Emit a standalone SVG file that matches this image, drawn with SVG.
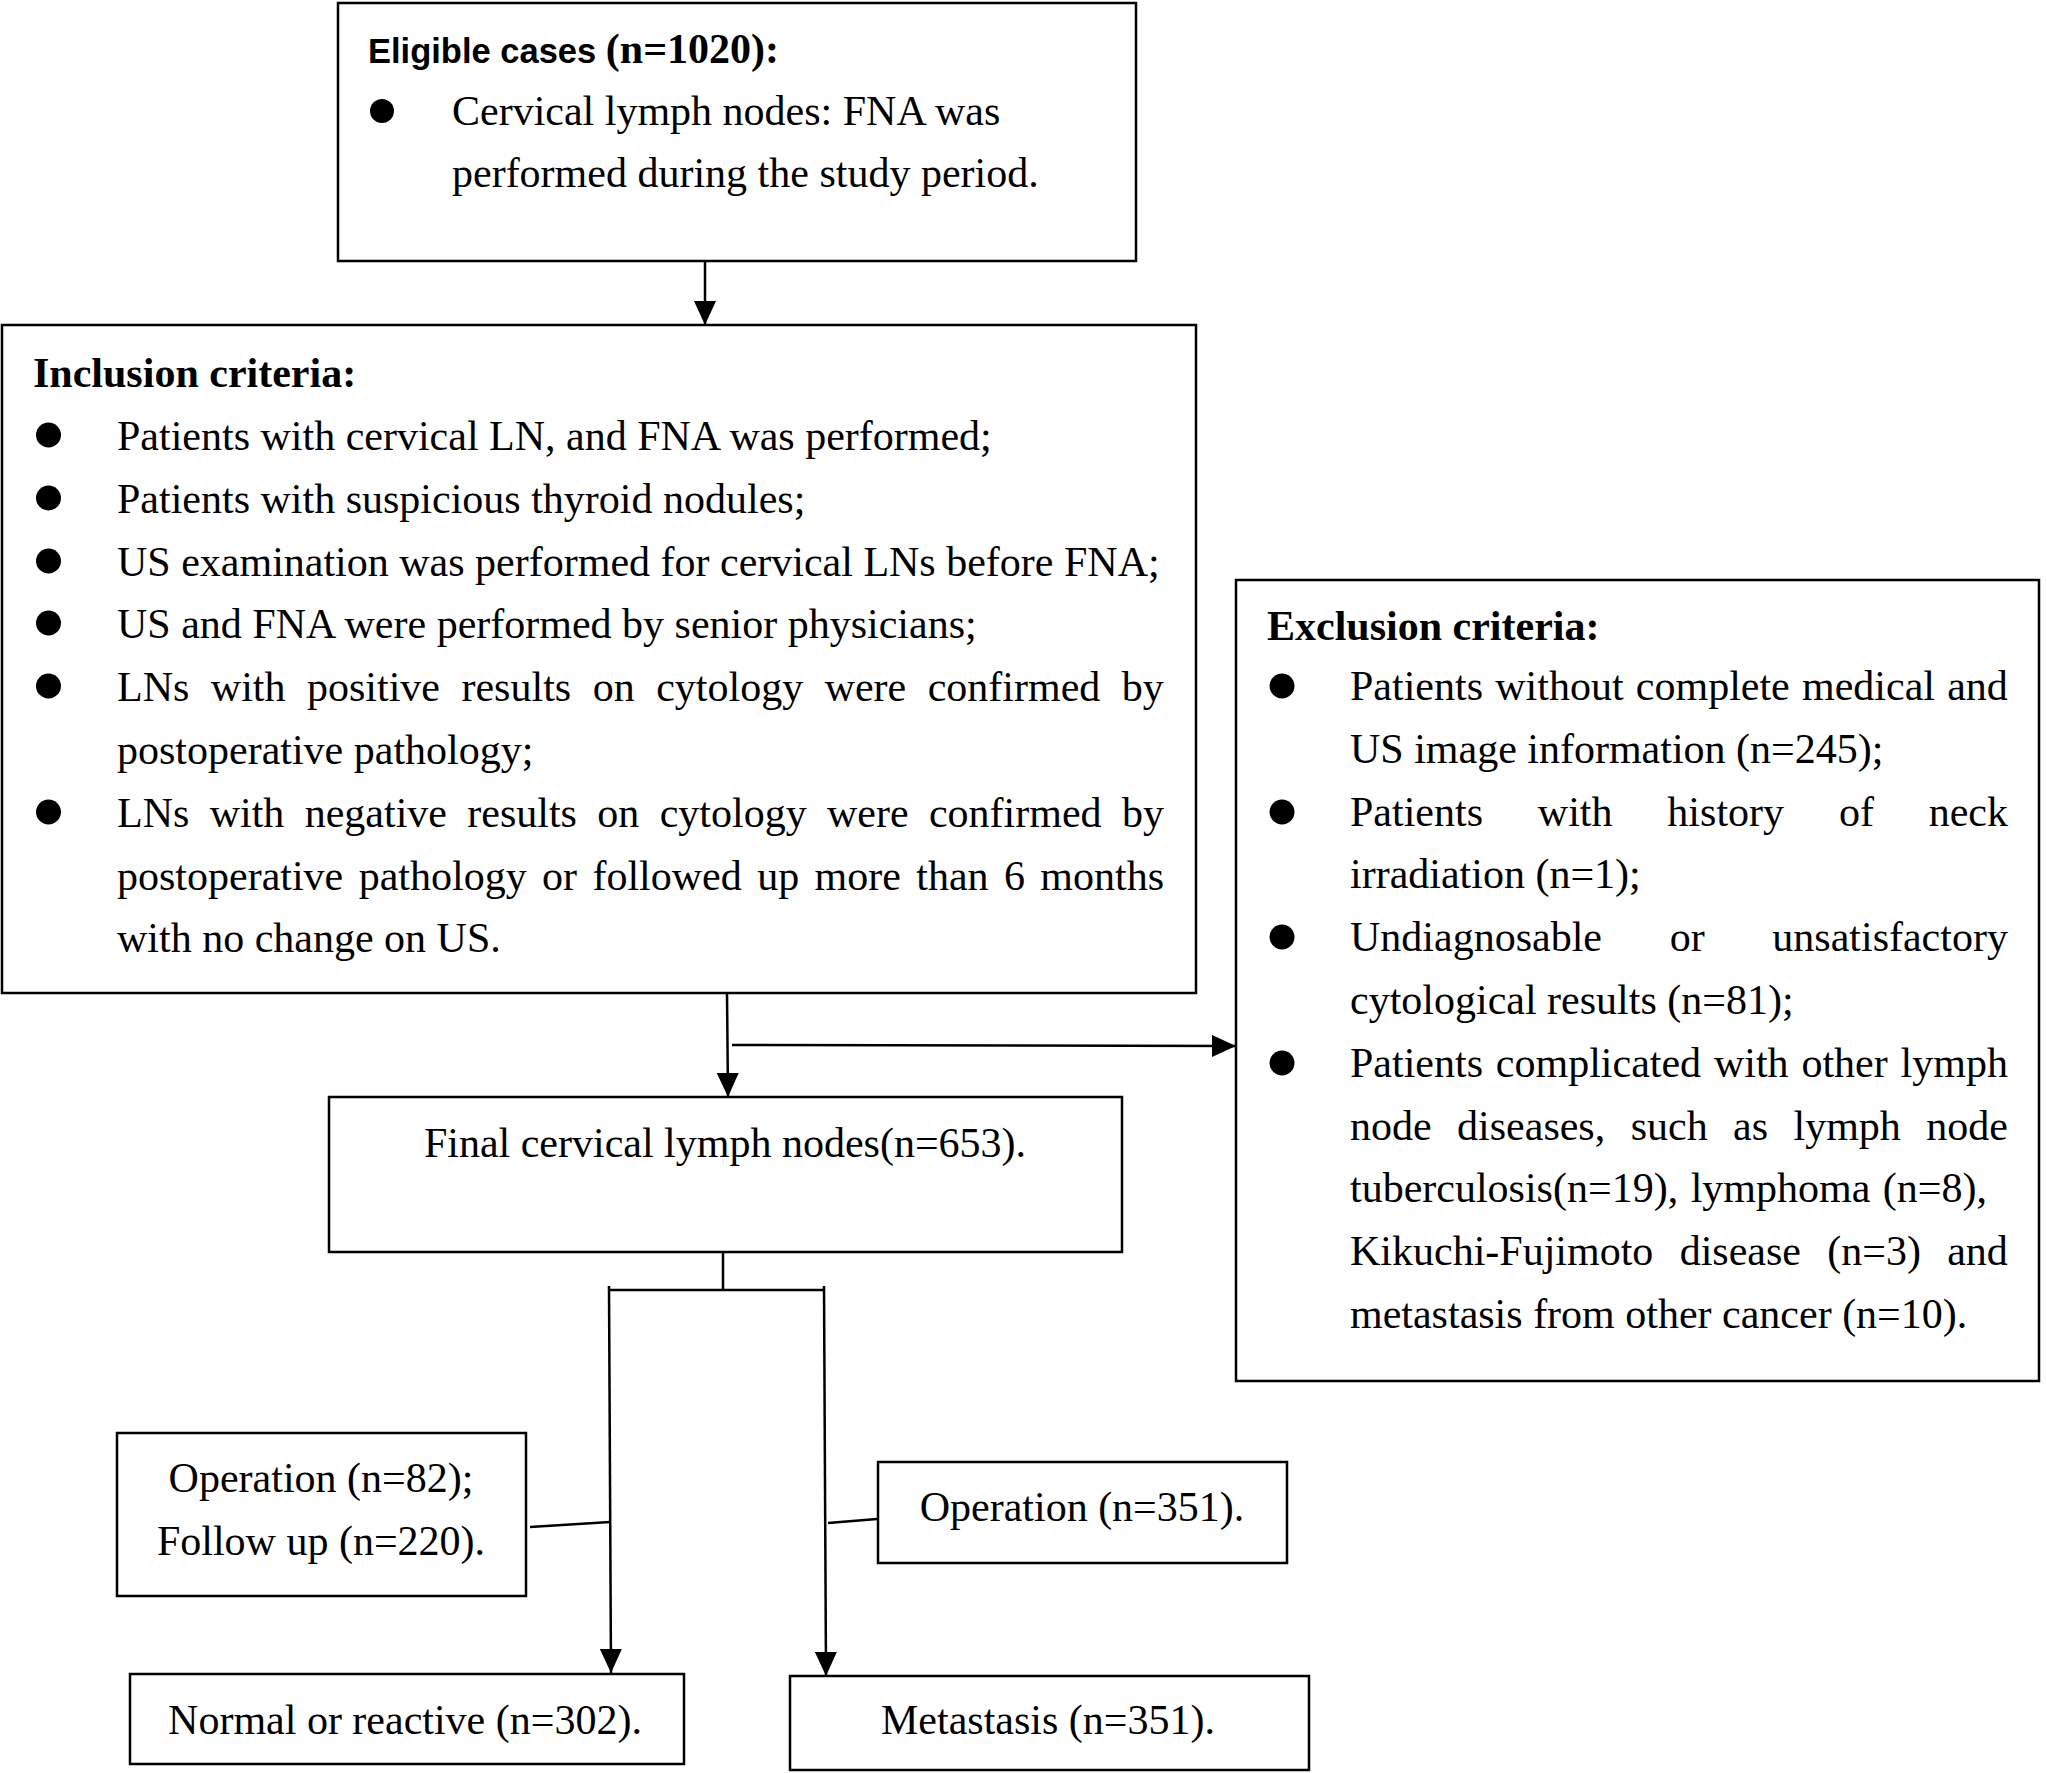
<svg xmlns="http://www.w3.org/2000/svg" width="2047" height="1773" viewBox="0 0 2047 1773">
<style>
.box{fill:#fff;stroke:#000;stroke-width:2.5}
.t{font-family:"Liberation Serif","Times New Roman",serif;font-size:42px;fill:#000}
.bt{font-family:"Liberation Serif","Times New Roman",serif;font-size:42px;font-weight:bold;fill:#000}
.st{font-family:"Liberation Sans",Arial,sans-serif;font-size:34.5px;font-weight:bold;fill:#000}
.c{text-anchor:middle}
.ln{fill:none;stroke:#000;stroke-width:2.5}
.dot{fill:#000}
</style>
<defs>
<marker id="ah" markerUnits="userSpaceOnUse" markerWidth="24" markerHeight="22" refX="24" refY="11" orient="auto">
<path d="M0,0 L24,11 L0,22 z" fill="#000"/>
</marker>
</defs>
<rect width="2047" height="1773" fill="#fff"/>

<g id="connectors">
<line class="ln" x1="705" y1="261" x2="705" y2="325" marker-end="url(#ah)"/>
<line class="ln" x1="727" y1="993" x2="728" y2="1097" marker-end="url(#ah)"/>
<line class="ln" x1="732" y1="1045" x2="1236" y2="1046" marker-end="url(#ah)"/>
<line class="ln" x1="723" y1="1252" x2="723" y2="1290"/>
<line class="ln" x1="608" y1="1290" x2="825" y2="1290"/>
<line class="ln" x1="609" y1="1286" x2="611" y2="1673" marker-end="url(#ah)"/>
<line class="ln" x1="824" y1="1286" x2="826" y2="1676" marker-end="url(#ah)"/>
<line class="ln" x1="530" y1="1527" x2="610" y2="1522"/>
<line class="ln" x1="828" y1="1523" x2="877" y2="1519"/>
</g>

<g id="eligible">
<rect class="box" x="338" y="3" width="798" height="258"/>
<text x="368" y="63"><tspan class="st">Eligible cases </tspan><tspan class="bt">(n=1020):</tspan></text>
<circle class="dot" cx="382" cy="111" r="12"/>
<text class="t" x="452" y="125">Cervical lymph nodes: FNA was</text>
<text class="t" x="452" y="187">performed during the study period.</text>
</g>

<g id="inclusion">
<rect class="box" x="2" y="325" width="1194" height="668"/>
<text class="bt" x="33" y="387">Inclusion criteria:</text>
<circle class="dot" cx="48.5" cy="435" r="12.5"/>
<circle class="dot" cx="48.5" cy="498" r="12.5"/>
<circle class="dot" cx="48.5" cy="561" r="12.5"/>
<circle class="dot" cx="48.5" cy="623" r="12.5"/>
<circle class="dot" cx="48.5" cy="686" r="12.5"/>
<circle class="dot" cx="48.5" cy="812" r="12.5"/>
<text class="t" x="117" y="450">Patients with cervical LN, and FNA was performed;</text>
<text class="t" x="117" y="513">Patients with suspicious thyroid nodules;</text>
<text class="t" x="117" y="576">US examination was performed for cervical LNs before FNA;</text>
<text class="t" x="117" y="638">US and FNA were performed by senior physicians;</text>
<text class="t" x="117" y="701" word-spacing="11">LNs with positive results on cytology were confirmed by</text>
<text class="t" x="117" y="764">postoperative pathology;</text>
<text class="t" x="117" y="827" word-spacing="9.85">LNs with negative results on cytology were confirmed by</text>
<text class="t" x="117" y="890" word-spacing="4.9">postoperative pathology or followed up more than 6 months</text>
<text class="t" x="117" y="952">with no change on US.</text>
</g>

<g id="exclusion">
<rect class="box" x="1236" y="580" width="803" height="801"/>
<text class="bt" x="1267" y="640">Exclusion criteria:</text>
<circle class="dot" cx="1282" cy="686" r="12.5"/>
<circle class="dot" cx="1282" cy="812" r="12.5"/>
<circle class="dot" cx="1282" cy="937" r="12.5"/>
<circle class="dot" cx="1282" cy="1063" r="12.5"/>
<text class="t" x="1350" y="700" word-spacing="1.75">Patients without complete medical and</text>
<text class="t" x="1350" y="763">US image information (n=245);</text>
<text class="t" x="1350" y="826" word-spacing="44.35">Patients with history of neck</text>
<text class="t" x="1350" y="888">irradiation (n=1);</text>
<text class="t" x="1350" y="951" word-spacing="57.2">Undiagnosable or unsatisfactory</text>
<text class="t" x="1350" y="1014">cytological results (n=81);</text>
<text class="t" x="1350" y="1077" word-spacing="2.35">Patients complicated with other lymph</text>
<text class="t" x="1350" y="1140" word-spacing="14.94">node diseases, such as lymph node</text>
<text class="t" x="1350" y="1202" word-spacing="2">tuberculosis(n=19), lymphoma (n=8),</text>
<text class="t" x="1350" y="1265" word-spacing="15.8">Kikuchi-Fujimoto disease (n=3) and</text>
<text class="t" x="1350" y="1328">metastasis from other cancer (n=10).</text>
</g>

<g id="final">
<rect class="box" x="329" y="1097" width="793" height="155"/>
<text class="t c" x="725" y="1157">Final cervical lymph nodes(n=653).</text>
</g>

<g id="op-left">
<rect class="box" x="117" y="1433" width="409" height="163"/>
<text class="t c" x="321" y="1492">Operation (n=82);</text>
<text class="t c" x="321" y="1555">Follow up (n=220).</text>
</g>

<g id="op-right">
<rect class="box" x="878" y="1462" width="409" height="101"/>
<text class="t c" x="1082" y="1521">Operation (n=351).</text>
</g>

<g id="normal">
<rect class="box" x="130" y="1674" width="554" height="90"/>
<text class="t c" x="405" y="1734">Normal or reactive (n=302).</text>
</g>

<g id="metastasis">
<rect class="box" x="790" y="1676" width="519" height="94"/>
<text class="t c" x="1048" y="1734">Metastasis (n=351).</text>
</g>
</svg>
